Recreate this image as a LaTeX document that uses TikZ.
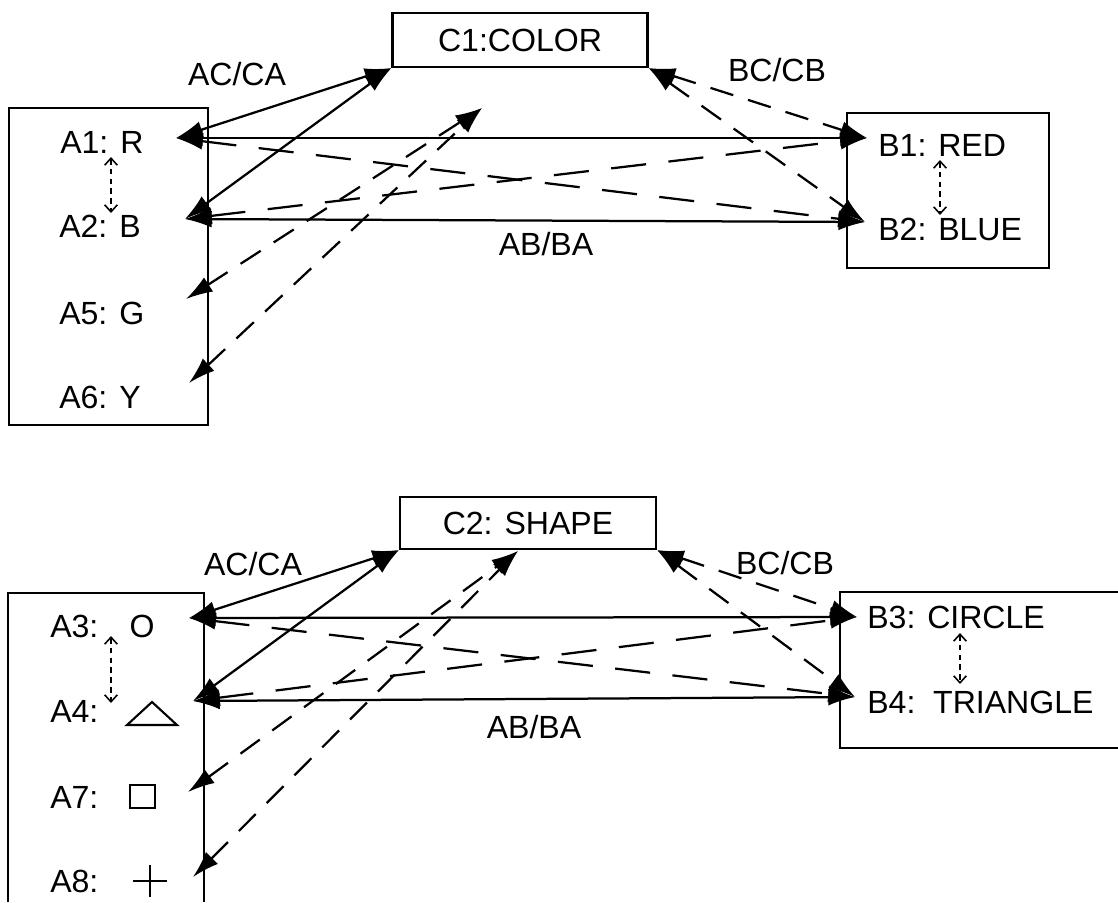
\documentclass[tikz,border=0pt]{standalone}
\usepackage{fontspec}
\setmainfont{Liberation Sans}
\usetikzlibrary{arrows.meta}

\begin{document}
\begin{tikzpicture}[
  x=0.025cm, y=-0.025cm,
  every node/.style={font=\fontsize{22.8}{27}\selectfont, inner sep=0pt},
  box/.style={draw, line width=1.5pt},
  link/.style={{Latex[length=19pt,width=12pt]}-{Latex[length=19pt,width=12pt]}, line width=1.6pt},
  longdash/.style={link, dash pattern=on 25pt off 16pt},
  shortdash/.style={link, dash pattern=on 17pt off 11pt},
  twin/.style={{Straight Barb[length=5pt,width=9pt]}-{Straight Barb[length=5pt,width=9pt]}, line width=1.1pt, dash pattern=on 4pt off 3pt},
  symbol/.style={line width=1.5pt}
]
\useasboundingbox (0,0) rectangle (1118,902);

% Colour group
\node[box, minimum width=6.375cm, minimum height=1.35cm] (c1) at (520,40) {C1:COLOR};
\draw[box] (9,108) rectangle (208,425);
\draw[box] (847,113) rectangle (1049,268);

\node[anchor=west] (a1) at (60,142) {A1: R};
\node[anchor=west] (a2) at (59,226) {A2: B};
\node[anchor=west] (a5) at (59,313) {A5: G};
\node[anchor=west] (a6) at (59,397) {A6: Y};
\node[anchor=west] (b1) at (878,145) {B1: RED};
\node[anchor=west] (b2) at (878,229) {B2: BLUE};

\node (accolor) at (237,74) {AC/CA};
\node (bccolor) at (777,70) {BC/CB};
\node (abcolor) at (546,244) {AB/BA};

% Ports
\coordinate (a1p) at (176,138);
\coordinate (a2p) at (185,219);
\coordinate (a5p) at (186,299);
\coordinate (a6p) at (189,383);
\coordinate (b1p) at (867,138);
\coordinate (b2p) at (865,222);
\coordinate (c1p) at (482,108);
\coordinate (a1d) at (111,157);
\coordinate (a2d) at (111,213);
\coordinate (b1d) at (940,160);
\coordinate (b2d) at (940,215);

% Edges
\draw[link] (c1.south west) -- (a1p);
\draw[link] (c1.south west) -- (a2p);
\draw[link] (a1p) -- (b1p);
\draw[link] (a2p) -- (b2p);
\draw[longdash] (a1p) -- (b2p);
\draw[longdash] (a2p) -- (b1p);
\draw[shortdash] (c1.south east) -- (b1p);
\draw[shortdash] (c1.south east) -- (b2p);
\draw[shortdash] (a5p) -- (c1p);
\draw[shortdash] (a6p) -- (c1p);
\draw[twin] (a1d) -- (a2d);
\draw[twin] (b1d) -- (b2d);

% Shape group
\node[box, minimum width=6.4cm, minimum height=1.3cm] (c2) at (528,523) {C2: SHAPE};
\draw[box] (8,902) -- (8,593) -- (204,593) -- (204,902);
\draw[box] (1118,592) -- (840,592) -- (840,748) -- (1118,748);

\node[anchor=west] (a3) at (50,626) {A3:};
\node[anchor=west] (a4) at (50,711) {A4:};
\node[anchor=west] (a7) at (50,797) {A7:};
\node[anchor=west] (a8) at (50,881) {A8:};
\node (a3s) at (142,626) {O};
\draw[symbol] (127,725) -- (177,725) -- (152,702) -- cycle;
\draw[symbol] (130,785) rectangle (155,808);
\draw[symbol] (133,881) -- (167,881) (150,865) -- (150,897);
\node[anchor=west] (b3) at (867,617) {B3: CIRCLE};
\node[anchor=west] (b4) at (867,702) {B4:\ \ TRIANGLE};

\node (acshape) at (253,564) {AC/CA};
\node (bcshape) at (785,563) {BC/CB};
\node (abshape) at (534,727) {AB/BA};

% Ports
\coordinate (a3p) at (189,618);
\coordinate (a4p) at (193,701);
\coordinate (a7p) at (188,792);
\coordinate (a8p) at (193,877);
\coordinate (b3p) at (857,617);
\coordinate (b4p) at (855,697);
\coordinate (c2p) at (518,551);
\coordinate (a3d) at (111,636);
\coordinate (a4d) at (111,703);
\coordinate (b3d) at (960,633);
\coordinate (b4d) at (960,684);

% Edges
\draw[link] (c2.south west) -- (a3p);
\draw[link] (c2.south west) -- (a4p);
\draw[link] (a3p) -- (b3p);
\draw[link] (a4p) -- (b4p);
\draw[longdash] (a3p) -- (b4p);
\draw[longdash] (a4p) -- (b3p);
\draw[shortdash] (c2.south east) -- (b3p);
\draw[shortdash] (c2.south east) -- (b4p);
\draw[shortdash] (a7p) -- (c2p);
\draw[shortdash] (a8p) -- (c2p);
\draw[twin] (a3d) -- (a4d);
\draw[twin] (b3d) -- (b4d);
\end{tikzpicture}
\end{document}
